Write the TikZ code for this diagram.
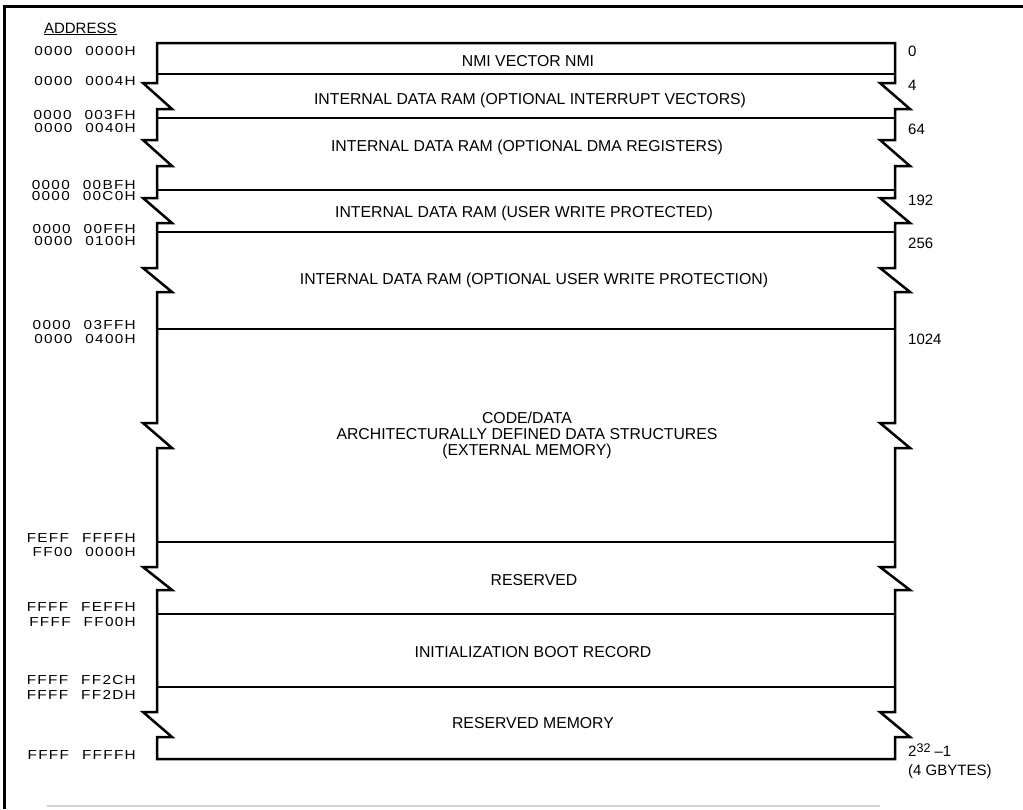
\documentclass[tikz,border=0pt]{standalone}
\usepackage{fontspec}
\setmainfont{Liberation Sans}
\newfontfamily\addrfont[LetterSpace=10,FakeStretch=1.18]{Liberation Sans}
% two hex groups of an address, set apart by a wide gap
\newcommand\hexpair[2]{#1\hspace{13pt}#2}
\begin{document}
\begin{tikzpicture}[x=1pt,y=-1pt,
  frameline/.style={line width=3pt},
  outline/.style={line width=2.5pt, line join=miter},
  divider/.style={line width=2.2pt},
  region/.style={anchor=base, inner sep=0pt, font=\fontsize{15.8}{16}\selectfont},
  addr/.style={anchor=base east, inner sep=0pt, font=\addrfont\fontsize{13}{13}\selectfont},
  size/.style={anchor=base west, inner sep=0pt, font=\fontsize{15}{15}\selectfont}]
\useasboundingbox (0,0) rectangle (1023,809);

% page frame
\draw[frameline] (4.5,809) -- (4.5,6) -- (1023,6);
\draw[line width=1.5pt, gray!35] (47,806) -- (880,806);

% memory map outline with break marks on both sides
\def\brk{83/109,140/166,198/223,268/292,423/448,567/590,712/737}
\def\brkup{712/737,567/590,423/448,268/292,198/223,140/166,83/109}
\draw[outline] (157,43) -- (895,43)
  foreach \a/\b in \brk { -- (895,\a) -- (880,\a) -- (910,\b) -- (895,\b) }
  -- (895,759) -- (157,759)
  foreach \a/\b in \brkup { -- (157,\b) -- (172,\b) -- (143,\a) -- (157,\a) }
  -- cycle;

% region boundaries
\foreach \y in {74,118,190,232,329,542,614,687}
  \draw[divider] (157,\y) -- (895,\y);

% region names
\node[region] (r0) at (528,66.5) {NMI VECTOR NMI};
\node[region] (r1) at (530,104.5) {INTERNAL DATA RAM (OPTIONAL INTERRUPT VECTORS)};
\node[region] (r2) at (527,151.5) {INTERNAL DATA RAM (OPTIONAL DMA REGISTERS)};
\node[region] (r3) at (524,217.5) {INTERNAL DATA RAM (USER WRITE PROTECTED)};
\node[region] (r4) at (534,284.5) {INTERNAL DATA RAM (OPTIONAL USER WRITE PROTECTION)};
\node[region] (r5a) at (527,423.5) {CODE/DATA};
\node[region] (r5b) at (527,439.5) {ARCHITECTURALLY DEFINED DATA STRUCTURES};
\node[region] (r5c) at (527,455.5) {(EXTERNAL MEMORY)};
\node[region] (r6) at (534,585.5) {RESERVED};
\node[region] (r7) at (533,657.5) {INITIALIZATION BOOT RECORD};
\node[region] (r8) at (533,728.5) {RESERVED MEMORY};

% address column
\node[anchor=base, inner sep=0pt, font=\fontsize{15}{15}\selectfont] (hdr) at (80.3,33.7) {ADDRESS};
\draw[line width=1pt] ([yshift=-1.2pt]hdr.base west) -- ([yshift=-1.2pt]hdr.base east);
\node[addr] (a0)  at (136,55.9)  {\hexpair{0000}{0000H}};
\node[addr] (a1)  at (136,85.2)  {\hexpair{0000}{0004H}};
\node[addr] (a2)  at (136,119.2) {\hexpair{0000}{003FH}};
\node[addr] (a3)  at (136,132.4) {\hexpair{0000}{0040H}};
\node[addr] (a4)  at (136,189)   {\hexpair{0000}{00BFH}};
\node[addr] (a5)  at (136,200.5) {\hexpair{0000}{00C0H}};
\node[addr] (a6)  at (136,233.5) {\hexpair{0000}{00FFH}};
\node[addr] (a7)  at (136,245.7) {\hexpair{0000}{0100H}};
\node[addr] (a8)  at (136,329)   {\hexpair{0000}{03FFH}};
\node[addr] (a9)  at (136,343)   {\hexpair{0000}{0400H}};
\node[addr] (a10) at (136,542.7) {\hexpair{FEFF}{FFFFH}};
\node[addr] (a11) at (136,556)   {\hexpair{FF00}{0000H}};
\node[addr] (a12) at (136,611.4) {\hexpair{FFFF}{FEFFH}};
\node[addr] (a13) at (136,626.7) {\hexpair{FFFF}{FF00H}};
\node[addr] (a14) at (136,684.7) {\hexpair{FFFF}{FF2CH}};
\node[addr] (a15) at (136,699)   {\hexpair{FFFF}{FF2DH}};
\node[addr] (a16) at (136,759)   {\hexpair{FFFF}{FFFFH}};

% byte offsets
\node[size] (s0) at (908,56)    {0};
\node[size] (s1) at (908,90)    {4};
\node[size] (s2) at (908,134.4) {64};
\node[size] (s3) at (908,205.4) {192};
\node[size] (s4) at (908,248.2) {256};
\node[size] (s5) at (908,344)   {1024};
\node[size] (s6) at (908,756)   {2\raisebox{3.5pt}{\fontsize{12.5}{12.5}\selectfont 32} –1};
\node[size] (s7) at (908,775.4) {(4 GBYTES)};
\end{tikzpicture}
\end{document}
